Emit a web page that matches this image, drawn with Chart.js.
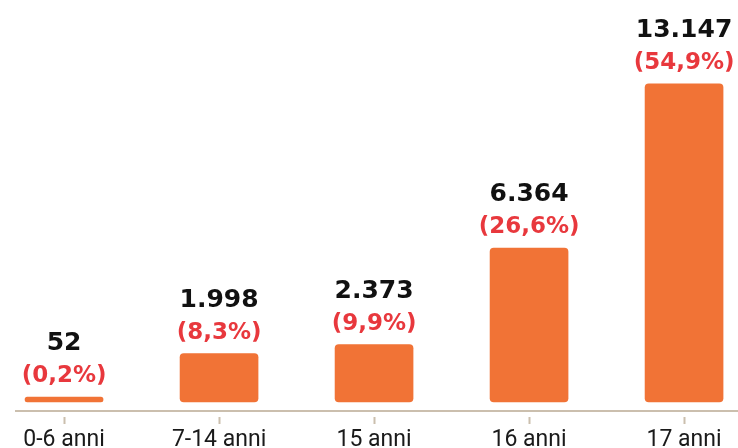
<!DOCTYPE html>
<html>
<head>
<meta charset="utf-8">
<script src="https://cdn.jsdelivr.net/npm/chart.js@4"></script>
<style>
  html, body { margin: 0; padding: 0; background: #fff; overflow: hidden; }
  #wrap { position: relative; width: 738px; height: 460px; }
</style>
</head>
<body>
<div id="wrap"><canvas id="myChart"></canvas></div>
<script>
// data
var categories = ['0-6 anni', '7-14 anni', '15 anni', '16 anni', '17 anni'];
var minori = [52, 1998, 2373, 6364, 13147];
var percentuali = [0.2, 8.3, 9.9, 26.6, 54.9];

function fmtNum(n) {
  return String(n).replace(/\B(?=(\d{3})+(?!\d))/g, '.');
}
function fmtPct(p) {
  return '(' + p.toFixed(1).replace('.', ',') + '%)';
}

// labels over the bars: value in black, percentage in red
const barLabels = {
  id: 'barLabels',
  afterDatasetsDraw(chart) {
    const ctx = chart.ctx;
    const meta = chart.getDatasetMeta(0);
    ctx.save();
    ctx.textAlign = 'center';
    ctx.textBaseline = 'alphabetic';
    meta.data.forEach(function(bar, i) {
      const top = Math.min(bar.y, bar.base);
      ctx.font = 'bold 25px "DejaVu Sans"';
      ctx.fillStyle = '#111111';
      ctx.fillText(fmtNum(minori[i]), bar.x, top - 47);
      ctx.font = 'bold 23px "DejaVu Sans"';
      ctx.fillStyle = '#E8383D';
      ctx.fillText(fmtPct(percentuali[i]), bar.x, top - 15);
    });
    ctx.restore();
  }
};

const ctx = document.getElementById('myChart').getContext('2d');
const myChart = new Chart(ctx, {
  type: 'bar',
  data: {
    datasets: [{
      data: minori.map(function(v, i) { return { x: i, y: v }; }),
      backgroundColor: '#F17336',
      borderRadius: 4,
      borderSkipped: false,
      barThickness: 78,
      minBarLength: 5
    }]
  },
  options: {
    responsive: true,
    maintainAspectRatio: false,
    animation: false,
    layout: { padding: { left: 16, top: 0, right: 0, bottom: 0 } },
    plugins: { legend: { display: false }, tooltip: { enabled: false } },
    scales: {
      x: {
        type: 'linear',
        offset: false,
        min: -0.31,
        max: 4.348,
        afterFit: function(scale) { scale.height = 49; },
        ticks: {
          stepSize: 1,
          includeBounds: false,
          autoSkip: false,
          maxRotation: 0,
          padding: 2,
          color: '#1a1a1a',
          font: { family: 'Roboto', size: 23 },
          callback: function(v) { return categories[v]; }
        },
        grid: {
          offset: false,
          drawOnChartArea: false,
          tickLength: 13,
          tickWidth: 2,
          tickColor: '#CBBFAE',
          tickBorderDash: [0, 5, 8, 100]
        },
        border: { display: true, color: '#CBBFAE', width: 2 }
      },
      y: {
        display: false,
        min: -372,
        max: 16611
      }
    }
  },
  plugins: [barLabels]
});
</script>
</body>
</html>
